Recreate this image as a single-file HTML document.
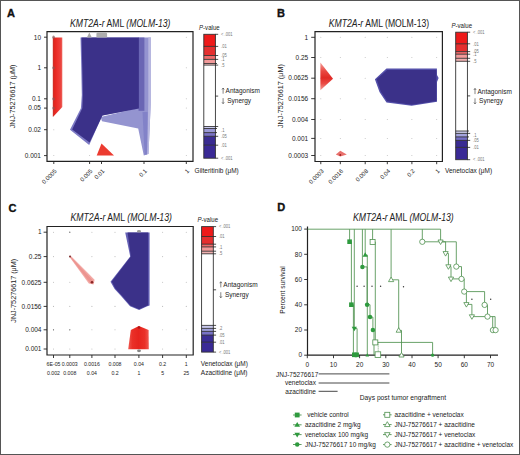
<!DOCTYPE html>
<html><head><meta charset="utf-8">
<style>
html,body{margin:0;padding:0;background:#fff;}
body{width:520px;height:455px;overflow:hidden;}
svg{display:block;font-family:"Liberation Sans",sans-serif;}
.ar{stroke:#333;stroke-width:0.6;fill:none;}
</style></head>
<body>
<svg width="520" height="455" viewBox="0 0 520 455">
<defs>
<linearGradient id="rgB" x1="0" y1="0" x2="0" y2="1">
<stop offset="0" stop-color="#f4a09a"/><stop offset="0.3" stop-color="#ea4a44"/><stop offset="0.55" stop-color="#e02a26"/><stop offset="0.75" stop-color="#ea4a44"/><stop offset="1" stop-color="#f4a09a"/>
</linearGradient>
<linearGradient id="rgA" gradientUnits="userSpaceOnUse" x1="52.8" y1="0" x2="62.3" y2="0">
<stop offset="0" stop-color="#c8302a"/><stop offset="0.2" stop-color="#e6261f"/><stop offset="0.55" stop-color="#ee3430"/><stop offset="0.85" stop-color="#ea4440"/><stop offset="1" stop-color="#ee6a60"/>
</linearGradient>
<linearGradient id="rgC" gradientUnits="userSpaceOnUse" x1="128.2" y1="0" x2="148.8" y2="0">
<stop offset="0" stop-color="#f05850"/><stop offset="0.2" stop-color="#ea3028"/><stop offset="0.5" stop-color="#e6241e"/><stop offset="0.8" stop-color="#ea3028"/><stop offset="1" stop-color="#f05850"/>
</linearGradient>
</defs>
<rect x="0" y="0" width="520" height="455" fill="#fff"/>
<g id="A">
<text x="7.10" y="16.50" font-size="11.00" fill="#111" font-weight="bold" stroke="#111" stroke-width="0.35">A</text>
<text x="70.00" y="26.80" font-size="10.15" textLength="100.50" lengthAdjust="spacingAndGlyphs" fill="#222"><tspan font-style="italic">KMT2A-r</tspan> AML <tspan font-style="italic">(MOLM-13)</tspan></text>
<polygon points="52.8,37.5 62.3,37.5 62.3,107 53.2,116.8 52.8,116.8" fill="url(#rgA)"/>
<polygon points="138.5,37.5 150.9,37.5 150.9,100 148.5,154 143.8,155.6 138.2,128.4 102,121.2 100.6,117 138.5,108" fill="#9494d0"/>
<polygon points="148.3,37.5 150.9,37.5 150.9,100 148.5,154 147.2,154 148.3,100" fill="#b8b8e0"/>
<polygon points="142.5,112 147.6,112 147,154.5 144.6,154.5" fill="#8282c8"/>
<polygon points="138.5,37.5 144.4,37.5 144.4,110.8 138.5,110.8" fill="#6a66b4"/>
<polygon points="80.5,37.5 138.9,37.5 138.9,108.5 102.4,115.6 100.2,120.3 89.2,145 70,129.7 80.9,108.2 81.8,95 81.3,70" fill="#7d7ac4"/>
<polygon points="80.5,37.5 138.9,37.5 138.9,108.5 102.4,115.6 100.2,120.3 89.6,142.6 72.2,129.5 82.3,108.2 82.8,95 82.3,70 81.5,37.5" fill="#3b3189"/>
<circle cx="186.3" cy="37.2" r="0.5" fill="#bbb"/><circle cx="186.3" cy="67.8" r="0.5" fill="#bbb"/><circle cx="186.3" cy="98.8" r="0.5" fill="#bbb"/><circle cx="186.3" cy="108.1" r="0.5" fill="#bbb"/><circle cx="186.3" cy="129.7" r="0.5" fill="#bbb"/><circle cx="186.3" cy="155.6" r="0.5" fill="#bbb"/><circle cx="53.8" cy="129.7" r="0.5" fill="#bbb"/><circle cx="53.8" cy="155.6" r="0.5" fill="#bbb"/><circle cx="89.6" cy="155.6" r="0.5" fill="#bbb"/><ellipse cx="53.6" cy="37.2" rx="1.3" ry="1.6" fill="#8a5a58" opacity="0.75"/><ellipse cx="53.6" cy="67.8" rx="1.3" ry="1.6" fill="#8a5a58" opacity="0.75"/><ellipse cx="53.6" cy="98.8" rx="1.3" ry="1.6" fill="#8a5a58" opacity="0.75"/><ellipse cx="53.6" cy="108.1" rx="1.3" ry="1.6" fill="#8a5a58" opacity="0.75"/>
<polygon points="101.5,143.5 96.7,155.4 114,155.4" fill="#ec3b30"/>
<polygon points="86.9,37.6 89.3,32.6 91.8,37.6" fill="#a8a8a8"/>
<rect x="96.4" y="32.7" width="10.7" height="4.9" rx="1.2" fill="#adadad"/>
<path d="M47,31.6 H193 V161.4 H47 Z" fill="none" stroke="#222" stroke-width="1.2"/>
<path d="M44,37.2H47 M44,67.8H47 M44,98.8H47 M44,108.1H47 M44,129.7H47 M44,155.6H47 M53.8,161.4V164 M89.6,161.4V164 M101.5,161.4V164 M144,161.4V164 M186.3,161.4V164 " stroke="#222" stroke-width="0.9"/>
<text x="41.00" y="39.50" font-size="7.15" textLength="7.23" lengthAdjust="spacingAndGlyphs" text-anchor="end" fill="#222">10</text>
<text x="41.00" y="70.10" font-size="7.15" textLength="3.62" lengthAdjust="spacingAndGlyphs" text-anchor="end" fill="#222">1</text>
<text x="41.00" y="101.10" font-size="7.15" textLength="9.04" lengthAdjust="spacingAndGlyphs" text-anchor="end" fill="#222">0.1</text>
<text x="41.00" y="110.40" font-size="7.15" textLength="12.65" lengthAdjust="spacingAndGlyphs" text-anchor="end" fill="#222">0.05</text>
<text x="41.00" y="132.00" font-size="7.15" textLength="12.65" lengthAdjust="spacingAndGlyphs" text-anchor="end" fill="#222">0.02</text>
<text x="41.00" y="157.90" font-size="7.15" textLength="16.27" lengthAdjust="spacingAndGlyphs" text-anchor="end" fill="#222">0.001</text>
<text transform="translate(57.10,171.50) rotate(-45)" font-size="5.90" text-anchor="end" fill="#222">0.0005</text>
<text transform="translate(92.90,171.50) rotate(-45)" font-size="5.90" text-anchor="end" fill="#222">0.005</text>
<text transform="translate(104.80,171.50) rotate(-45)" font-size="5.90" text-anchor="end" fill="#222">0.01</text>
<text transform="translate(147.30,171.50) rotate(-45)" font-size="5.90" text-anchor="end" fill="#222">0.1</text>
<text transform="translate(189.60,171.50) rotate(-45)" font-size="5.90" text-anchor="end" fill="#222">1</text>
<text transform="translate(15.40,96.40) rotate(-90)" font-size="7.92" textLength="63.77" lengthAdjust="spacingAndGlyphs" text-anchor="middle" fill="#222">JNJ-75276617 (μM)</text>
<text x="194.60" y="173.10" font-size="7.15" textLength="44.19" lengthAdjust="spacingAndGlyphs" fill="#222">Gilteritinib (μM)</text>
<g>
<text x="199.00" y="29.80" font-size="6.71" textLength="20.68" lengthAdjust="spacingAndGlyphs" fill="#222"><tspan font-style="italic">P</tspan>-value</text>
<rect x="203.8" y="34.3" width="11.6" height="12.10" fill="#ee1a1a"/><rect x="203.8" y="46.4" width="11.6" height="9.10" fill="#e52f2f"/><rect x="203.8" y="55.5" width="11.6" height="3.90" fill="#ef6a6a"/><rect x="203.8" y="59.4" width="11.6" height="4.10" fill="#f29a9a"/><rect x="203.8" y="63.5" width="11.6" height="1.60" fill="#f6c4c4"/><rect x="203.8" y="126.5" width="11.6" height="2.00" fill="#cacaee"/><rect x="203.8" y="128.5" width="11.6" height="4.10" fill="#9a98d6"/><rect x="203.8" y="132.6" width="11.6" height="3.70" fill="#7a72c4"/><rect x="203.8" y="136.3" width="11.6" height="8.90" fill="#3a2c92"/><rect x="203.8" y="145.2" width="11.6" height="13.00" fill="#3a2a96"/>
<rect x="203.8" y="34.3" width="11.6" height="123.90" fill="none" stroke="#333" stroke-width="0.9"/>
<path d="M203.8,46.4H218.20 M203.8,55.5H218.20 M203.8,59.4H218.20 M203.8,63.5H217.00 M203.8,65.1H218.20 M203.8,126.5H218.20 M203.8,128.5H217.00 M203.8,132.6H217.00 M203.8,136.3H218.20 M203.8,145.2H218.20 M215.4,34.3H218.20 M215.4,96.1H218.20 M215.4,158.2H218.20 " stroke="#222" stroke-width="0.8"/>
<text x="221.00" y="36.10" font-size="4.51" textLength="11.51" lengthAdjust="spacingAndGlyphs" fill="#777">&lt; .001</text><text x="221.00" y="48.30" font-size="4.51" textLength="5.70" lengthAdjust="spacingAndGlyphs" fill="#777">.01</text><text x="221.00" y="56.90" font-size="4.51" textLength="5.70" lengthAdjust="spacingAndGlyphs" fill="#777">.05</text><text x="221.00" y="60.60" font-size="4.51" textLength="3.42" lengthAdjust="spacingAndGlyphs" fill="#777">.1</text><text x="221.00" y="66.70" font-size="4.51" textLength="3.42" lengthAdjust="spacingAndGlyphs" fill="#777">.5</text><text x="221.00" y="131.50" font-size="4.51" textLength="3.42" lengthAdjust="spacingAndGlyphs" fill="#777">.1</text><text x="221.00" y="137.80" font-size="4.51" textLength="5.70" lengthAdjust="spacingAndGlyphs" fill="#777">.05</text><text x="221.00" y="146.70" font-size="4.51" textLength="5.70" lengthAdjust="spacingAndGlyphs" fill="#777">.01</text><text x="221.00" y="159.80" font-size="4.51" textLength="11.51" lengthAdjust="spacingAndGlyphs" fill="#777">&lt; .001</text>
<path class="ar" d="M223.1,88.2V93.7 M222.0,89.5L223.1,88.0L224.2,89.5"/><path class="ar" d="M223.1,98.10000000000001V103.5 M222.0,102.30000000000001L223.1,103.7L224.2,102.30000000000001"/>
<text x="225.60" y="93.40" font-size="7.15" textLength="34.33" lengthAdjust="spacingAndGlyphs" fill="#222">Antagonism</text>
<text x="227.20" y="102.90" font-size="7.15" textLength="23.85" lengthAdjust="spacingAndGlyphs" fill="#222">Synergy</text>
</g>

</g>
<g id="B">
<text x="277.10" y="16.50" font-size="11.00" fill="#111" font-weight="bold" stroke="#111" stroke-width="0.35">B</text>
<text x="328.70" y="26.50" font-size="10.15" textLength="100.50" lengthAdjust="spacingAndGlyphs" fill="#222"><tspan font-style="italic">KMT2A-r</tspan> AML (MOLM-13)</text>
<g fill="#bbb"><circle cx="320.8" cy="37.3" r="0.5"/><circle cx="320.8" cy="57.5" r="0.5"/><circle cx="320.8" cy="78.2" r="0.5"/><circle cx="320.8" cy="98.7" r="0.5"/><circle cx="320.8" cy="119.5" r="0.5"/><circle cx="320.8" cy="138.4" r="0.5"/><circle cx="320.8" cy="155.5" r="0.5"/><circle cx="340.3" cy="37.3" r="0.5"/><circle cx="340.3" cy="57.5" r="0.5"/><circle cx="340.3" cy="78.2" r="0.5"/><circle cx="340.3" cy="98.7" r="0.5"/><circle cx="340.3" cy="119.5" r="0.5"/><circle cx="340.3" cy="138.4" r="0.5"/><circle cx="340.3" cy="155.5" r="0.5"/><circle cx="365.2" cy="37.3" r="0.5"/><circle cx="365.2" cy="57.5" r="0.5"/><circle cx="365.2" cy="78.2" r="0.5"/><circle cx="365.2" cy="98.7" r="0.5"/><circle cx="365.2" cy="119.5" r="0.5"/><circle cx="365.2" cy="138.4" r="0.5"/><circle cx="365.2" cy="155.5" r="0.5"/><circle cx="387.3" cy="37.3" r="0.5"/><circle cx="387.3" cy="57.5" r="0.5"/><circle cx="387.3" cy="78.2" r="0.5"/><circle cx="387.3" cy="98.7" r="0.5"/><circle cx="387.3" cy="119.5" r="0.5"/><circle cx="387.3" cy="138.4" r="0.5"/><circle cx="387.3" cy="155.5" r="0.5"/><circle cx="411.9" cy="37.3" r="0.5"/><circle cx="411.9" cy="57.5" r="0.5"/><circle cx="411.9" cy="78.2" r="0.5"/><circle cx="411.9" cy="98.7" r="0.5"/><circle cx="411.9" cy="119.5" r="0.5"/><circle cx="411.9" cy="138.4" r="0.5"/><circle cx="411.9" cy="155.5" r="0.5"/><circle cx="436.7" cy="37.3" r="0.5"/><circle cx="436.7" cy="57.5" r="0.5"/><circle cx="436.7" cy="78.2" r="0.5"/><circle cx="436.7" cy="98.7" r="0.5"/><circle cx="436.7" cy="119.5" r="0.5"/><circle cx="436.7" cy="138.4" r="0.5"/><circle cx="436.7" cy="155.5" r="0.5"/></g>
<polygon points="320.4,62.6 333,78.8 320.4,90.3" fill="url(#rgB)"/>
<polygon points="335.8,154.4 340.3,150.8 346.8,154.6 340.3,156.6" fill="#e8706c"/>
<circle cx="340.3" cy="155" r="0.9" fill="#a02020"/>
<polygon points="374.9,79.2 386.5,68.6 436.9,68.6 437,75 438.6,78.1 437,82 437,101.8 411.6,105.8 386.5,102.4 379.5,92" fill="#5450aa"/>
<polygon points="376.6,79.2 387.2,70 436.4,70 436.4,101 411.6,104.8 387.2,101.3 380.8,91.5" fill="#3b3189"/>
<path d="M315,31.6 H442.4 V161.5 H315 Z" fill="none" stroke="#222" stroke-width="1.2"/>
<path d="M311.2,37.3H315 M311.2,57.5H315 M311.2,78.2H315 M311.2,98.7H315 M311.2,119.5H315 M311.2,138.4H315 M311.2,155.5H315 M320.8,161.5V164.2 M340.3,161.5V164.2 M365.2,161.5V164.2 M387.3,161.5V164.2 M411.9,161.5V164.2 M436.7,161.5V164.2 " stroke="#222" stroke-width="0.9"/>
<text x="308.20" y="39.50" font-size="7.15" textLength="3.62" lengthAdjust="spacingAndGlyphs" text-anchor="end" fill="#222">1</text>
<text x="308.20" y="59.70" font-size="7.15" textLength="12.65" lengthAdjust="spacingAndGlyphs" text-anchor="end" fill="#222">0.25</text>
<text x="308.20" y="80.40" font-size="7.15" textLength="19.88" lengthAdjust="spacingAndGlyphs" text-anchor="end" fill="#222">0.0625</text>
<text x="308.20" y="100.90" font-size="7.15" textLength="19.88" lengthAdjust="spacingAndGlyphs" text-anchor="end" fill="#222">0.0156</text>
<text x="308.20" y="121.70" font-size="7.15" textLength="16.27" lengthAdjust="spacingAndGlyphs" text-anchor="end" fill="#222">0.004</text>
<text x="308.20" y="140.60" font-size="7.15" textLength="16.27" lengthAdjust="spacingAndGlyphs" text-anchor="end" fill="#222">0.001</text>
<text x="308.20" y="157.70" font-size="7.15" textLength="19.88" lengthAdjust="spacingAndGlyphs" text-anchor="end" fill="#222">0.0003</text>
<text transform="translate(324.10,171.50) rotate(-45)" font-size="5.90" text-anchor="end" fill="#222">0.0003</text>
<text transform="translate(343.60,171.50) rotate(-45)" font-size="5.90" text-anchor="end" fill="#222">0.0016</text>
<text transform="translate(368.50,171.50) rotate(-45)" font-size="5.90" text-anchor="end" fill="#222">0.008</text>
<text transform="translate(390.60,171.50) rotate(-45)" font-size="5.90" text-anchor="end" fill="#222">0.04</text>
<text transform="translate(415.20,171.50) rotate(-45)" font-size="5.90" text-anchor="end" fill="#222">0.2</text>
<text transform="translate(440.00,171.50) rotate(-45)" font-size="5.90" text-anchor="end" fill="#222">1</text>
<text transform="translate(283.20,96.10) rotate(-90)" font-size="7.92" textLength="63.77" lengthAdjust="spacingAndGlyphs" text-anchor="middle" fill="#222">JNJ-75276617 (μM)</text>
<text x="445.00" y="173.10" font-size="7.15" textLength="47.10" lengthAdjust="spacingAndGlyphs" fill="#222">Venetoclax (μM)</text>
<g>
<text x="451.40" y="27.70" font-size="6.71" textLength="20.68" lengthAdjust="spacingAndGlyphs" fill="#222"><tspan font-style="italic">P</tspan>-value</text>
<rect x="455.7" y="32.2" width="11.7" height="11.60" fill="#ee1a1a"/><rect x="455.7" y="43.8" width="11.7" height="7.80" fill="#e52f2f"/><rect x="455.7" y="51.6" width="11.7" height="2.60" fill="#ef6a6a"/><rect x="455.7" y="54.2" width="11.7" height="4.10" fill="#f29a9a"/><rect x="455.7" y="58.3" width="11.7" height="3.00" fill="#f0b0b0"/><rect x="455.7" y="131" width="11.7" height="2.40" fill="#d0d0ee"/><rect x="455.7" y="133.4" width="11.7" height="3.50" fill="#a4a4dc"/><rect x="455.7" y="136.9" width="11.7" height="3.50" fill="#7670c6"/><rect x="455.7" y="140.4" width="11.7" height="7.00" fill="#3a2c92"/><rect x="455.7" y="147.4" width="11.7" height="12.30" fill="#3a2a96"/>
<rect x="455.7" y="32.2" width="11.7" height="127.50" fill="none" stroke="#333" stroke-width="0.9"/>
<path d="M455.7,43.8H470.20 M455.7,51.6H470.20 M455.7,54.2H470.20 M455.7,58.3H470.20 M455.7,61.3H470.20 M455.7,131H469.00 M455.7,133.4H470.20 M455.7,136.9H469.00 M455.7,140.4H470.20 M455.7,147.4H470.20 M467.4,32.2H470.20 M467.4,95.9H470.20 M467.4,159.7H470.20 " stroke="#222" stroke-width="0.8"/>
<text x="473.00" y="33.80" font-size="4.51" textLength="11.51" lengthAdjust="spacingAndGlyphs" fill="#777">&lt; .001</text><text x="473.00" y="45.50" font-size="4.51" textLength="5.70" lengthAdjust="spacingAndGlyphs" fill="#777">.01</text><text x="473.00" y="52.50" font-size="4.51" textLength="5.70" lengthAdjust="spacingAndGlyphs" fill="#777">.05</text><text x="473.00" y="55.90" font-size="4.51" textLength="3.42" lengthAdjust="spacingAndGlyphs" fill="#777">.1</text><text x="473.00" y="62.50" font-size="4.51" textLength="3.42" lengthAdjust="spacingAndGlyphs" fill="#777">.5</text><text x="473.00" y="136.50" font-size="4.51" textLength="3.42" lengthAdjust="spacingAndGlyphs" fill="#777">.1</text><text x="473.00" y="141.90" font-size="4.51" textLength="5.70" lengthAdjust="spacingAndGlyphs" fill="#777">.05</text><text x="473.00" y="148.90" font-size="4.51" textLength="5.70" lengthAdjust="spacingAndGlyphs" fill="#777">.01</text><text x="473.00" y="160.80" font-size="4.51" textLength="11.51" lengthAdjust="spacingAndGlyphs" fill="#777">&lt; .001</text>
<path class="ar" d="M475,88.6V94.1 M473.9,89.89999999999999L475,88.39999999999999L476.1,89.89999999999999"/><path class="ar" d="M475,98.3V103.69999999999999 M473.9,102.5L475,103.89999999999999L476.1,102.5"/>
<text x="477.50" y="93.80" font-size="7.15" textLength="34.33" lengthAdjust="spacingAndGlyphs" fill="#222">Antagonism</text>
<text x="479.10" y="103.10" font-size="7.15" textLength="23.85" lengthAdjust="spacingAndGlyphs" fill="#222">Synergy</text>
</g>

</g>
<g id="C">
<text x="8.60" y="211.90" font-size="11.00" fill="#111" font-weight="bold" stroke="#111" stroke-width="0.35">C</text>
<text x="70.40" y="221.30" font-size="10.15" textLength="101.60" lengthAdjust="spacingAndGlyphs" fill="#222"><tspan font-style="italic">KMT2A-r</tspan> AML <tspan font-style="italic">(MOLM-13)</tspan></text>
<g fill="#bbb"><circle cx="53.5" cy="232.2" r="0.55"/><circle cx="53.5" cy="256.6" r="0.55"/><circle cx="53.5" cy="282.3" r="0.55"/><circle cx="53.5" cy="306.4" r="0.55"/><circle cx="53.5" cy="329.8" r="0.55"/><circle cx="53.5" cy="349" r="0.55"/><circle cx="69.8" cy="232.2" r="0.55"/><circle cx="69.8" cy="256.6" r="0.55"/><circle cx="69.8" cy="282.3" r="0.55"/><circle cx="69.8" cy="306.4" r="0.55"/><circle cx="69.8" cy="329.8" r="0.55"/><circle cx="69.8" cy="349" r="0.55"/><circle cx="91.9" cy="232.2" r="0.55"/><circle cx="91.9" cy="256.6" r="0.55"/><circle cx="91.9" cy="282.3" r="0.55"/><circle cx="91.9" cy="306.4" r="0.55"/><circle cx="91.9" cy="329.8" r="0.55"/><circle cx="91.9" cy="349" r="0.55"/><circle cx="115" cy="232.2" r="0.55"/><circle cx="115" cy="256.6" r="0.55"/><circle cx="115" cy="282.3" r="0.55"/><circle cx="115" cy="306.4" r="0.55"/><circle cx="115" cy="329.8" r="0.55"/><circle cx="115" cy="349" r="0.55"/><circle cx="138.9" cy="232.2" r="0.55"/><circle cx="138.9" cy="256.6" r="0.55"/><circle cx="138.9" cy="282.3" r="0.55"/><circle cx="138.9" cy="306.4" r="0.55"/><circle cx="138.9" cy="329.8" r="0.55"/><circle cx="138.9" cy="349" r="0.55"/><circle cx="162.6" cy="232.2" r="0.55"/><circle cx="162.6" cy="256.6" r="0.55"/><circle cx="162.6" cy="282.3" r="0.55"/><circle cx="162.6" cy="306.4" r="0.55"/><circle cx="162.6" cy="329.8" r="0.55"/><circle cx="162.6" cy="349" r="0.55"/><circle cx="186.3" cy="232.2" r="0.55"/><circle cx="186.3" cy="256.6" r="0.55"/><circle cx="186.3" cy="282.3" r="0.55"/><circle cx="186.3" cy="306.4" r="0.55"/><circle cx="186.3" cy="329.8" r="0.55"/><circle cx="186.3" cy="349" r="0.55"/></g>
<polygon points="69.2,256.4 70.4,255.6 94.6,279.8 93.6,284.6 88.8,283.6" fill="#f3aaa6"/>
<polygon points="69.7,256.5 70.3,256.2 93,280.6 92.4,283.6 90,283" fill="#ec9490"/>
<circle cx="70" cy="256.6" r="1" fill="#7a3030"/>
<circle cx="92" cy="282.2" r="1.3" fill="#8a2525"/>
<circle cx="69.8" cy="232.2" r="0.6" fill="#666"/><circle cx="69.8" cy="329.8" r="0.6" fill="#666"/><circle cx="53.5" cy="329.8" r="0.6" fill="#666"/>
<polygon points="125.2,232.4 149.6,232.4 149.6,305.4 147.3,306.3 139.1,310.1 130,306.3 121.3,296.2 114.6,289 110.5,281.7 130.2,256.4" fill="#6662b6"/>
<polygon points="127.6,232.4 148.2,232.4 148.2,305.2 139.1,309.2 130.3,305.4 121.7,295.5 115.1,288.3 111.7,281.6 130.8,256.4" fill="#3b3189"/>
<ellipse cx="139" cy="231.2" rx="2" ry="1.2" fill="#999"/>
<polygon points="138.9,326 148.6,330 148.8,349.3 128.2,349.3 130.8,330" fill="url(#rgC)"/>
<circle cx="139" cy="327.5" r="1.3" fill="#b01818"/>
<ellipse cx="139" cy="350.8" rx="2" ry="1.4" fill="#888"/>
<path d="M47,226.5 H193.2 V355 H47 Z" fill="none" stroke="#222" stroke-width="1.2"/>
<path d="M43.6,232.2H47 M43.6,256.6H47 M43.6,282.3H47 M43.6,306.4H47 M43.6,329.8H47 M43.6,349H47 M53.5,355V358 M69.8,355V358 M91.9,355V358 M115,355V358 M138.9,355V358 M162.6,355V358 M186.3,355V358 " stroke="#222" stroke-width="0.9"/>
<text x="41.50" y="234.40" font-size="7.15" textLength="3.62" lengthAdjust="spacingAndGlyphs" text-anchor="end" fill="#222">1</text>
<text x="41.50" y="258.80" font-size="7.15" textLength="12.65" lengthAdjust="spacingAndGlyphs" text-anchor="end" fill="#222">0.25</text>
<text x="41.50" y="284.50" font-size="7.15" textLength="19.88" lengthAdjust="spacingAndGlyphs" text-anchor="end" fill="#222">0.0625</text>
<text x="41.50" y="308.60" font-size="7.15" textLength="19.88" lengthAdjust="spacingAndGlyphs" text-anchor="end" fill="#222">0.0156</text>
<text x="41.50" y="332.00" font-size="7.15" textLength="16.27" lengthAdjust="spacingAndGlyphs" text-anchor="end" fill="#222">0.004</text>
<text x="41.50" y="351.20" font-size="7.15" textLength="16.27" lengthAdjust="spacingAndGlyphs" text-anchor="end" fill="#222">0.001</text>
<text x="53.50" y="365.90" font-size="5.72" textLength="13.88" lengthAdjust="spacingAndGlyphs" text-anchor="middle" fill="#222">6E-05</text>
<text x="53.50" y="374.90" font-size="5.72" textLength="13.01" lengthAdjust="spacingAndGlyphs" text-anchor="middle" fill="#222">0.002</text>
<text x="69.80" y="365.90" font-size="5.72" textLength="15.90" lengthAdjust="spacingAndGlyphs" text-anchor="middle" fill="#222">0.0003</text>
<text x="69.80" y="374.90" font-size="5.72" textLength="13.01" lengthAdjust="spacingAndGlyphs" text-anchor="middle" fill="#222">0.008</text>
<text x="91.90" y="365.90" font-size="5.72" textLength="15.90" lengthAdjust="spacingAndGlyphs" text-anchor="middle" fill="#222">0.0016</text>
<text x="91.90" y="374.90" font-size="5.72" textLength="10.12" lengthAdjust="spacingAndGlyphs" text-anchor="middle" fill="#222">0.04</text>
<text x="115.00" y="365.90" font-size="5.72" textLength="13.01" lengthAdjust="spacingAndGlyphs" text-anchor="middle" fill="#222">0.008</text>
<text x="115.00" y="374.90" font-size="5.72" textLength="7.23" lengthAdjust="spacingAndGlyphs" text-anchor="middle" fill="#222">0.2</text>
<text x="138.90" y="365.90" font-size="5.72" textLength="10.12" lengthAdjust="spacingAndGlyphs" text-anchor="middle" fill="#222">0.04</text>
<text x="138.90" y="374.90" font-size="5.72" textLength="2.89" lengthAdjust="spacingAndGlyphs" text-anchor="middle" fill="#222">1</text>
<text x="162.60" y="365.90" font-size="5.72" textLength="7.23" lengthAdjust="spacingAndGlyphs" text-anchor="middle" fill="#222">0.2</text>
<text x="162.60" y="374.90" font-size="5.72" textLength="2.89" lengthAdjust="spacingAndGlyphs" text-anchor="middle" fill="#222">5</text>
<text x="186.30" y="365.90" font-size="5.72" textLength="2.89" lengthAdjust="spacingAndGlyphs" text-anchor="middle" fill="#222">1</text>
<text x="186.30" y="374.90" font-size="5.72" textLength="5.78" lengthAdjust="spacingAndGlyphs" text-anchor="middle" fill="#222">25</text>
<text transform="translate(16.10,290.80) rotate(-90)" font-size="7.92" textLength="63.77" lengthAdjust="spacingAndGlyphs" text-anchor="middle" fill="#222">JNJ-75276617 (μM)</text>
<text x="200.80" y="366.10" font-size="7.15" textLength="47.10" lengthAdjust="spacingAndGlyphs" fill="#222">Venetoclax (μM)</text>
<text x="200.80" y="374.80" font-size="7.15" textLength="46.73" lengthAdjust="spacingAndGlyphs" fill="#222">Azacitidine (μM)</text>
<g>
<text x="197.40" y="222.30" font-size="6.71" textLength="20.68" lengthAdjust="spacingAndGlyphs" fill="#222"><tspan font-style="italic">P</tspan>-value</text>
<rect x="201.6" y="226.6" width="11.7" height="9.90" fill="#ee1a1a"/><rect x="201.6" y="236.5" width="11.7" height="7.70" fill="#e52f2f"/><rect x="201.6" y="244.2" width="11.7" height="2.70" fill="#ef6a6a"/><rect x="201.6" y="246.9" width="11.7" height="4.30" fill="#f29a9a"/><rect x="201.6" y="251.2" width="11.7" height="2.60" fill="#f0b0b0"/><rect x="201.6" y="325.4" width="11.7" height="3.00" fill="#c8c8ec"/><rect x="201.6" y="328.4" width="11.7" height="3.00" fill="#a0a0dc"/><rect x="201.6" y="331.4" width="11.7" height="3.70" fill="#7872c6"/><rect x="201.6" y="335.1" width="11.7" height="7.10" fill="#3a2c94"/><rect x="201.6" y="342.2" width="11.7" height="9.90" fill="#3a2a96"/>
<rect x="201.6" y="226.6" width="11.7" height="125.50" fill="none" stroke="#333" stroke-width="0.9"/>
<path d="M201.6,236.5H216.10 M201.6,244.2H216.10 M201.6,246.9H216.10 M201.6,251.2H216.10 M201.6,253.8H216.10 M201.6,325.4H216.10 M201.6,328.4H216.10 M201.6,331.4H216.10 M201.6,335.1H216.10 M201.6,342.2H216.10 M213.29999999999998,226.6H216.10 M213.29999999999998,289.8H216.10 M213.29999999999998,352.1H216.10 " stroke="#222" stroke-width="0.8"/>
<text x="218.90" y="228.20" font-size="4.51" textLength="11.51" lengthAdjust="spacingAndGlyphs" fill="#777">&lt; .001</text><text x="218.90" y="238.40" font-size="4.51" textLength="5.70" lengthAdjust="spacingAndGlyphs" fill="#777">.01</text><text x="218.90" y="248.90" font-size="4.51" textLength="3.42" lengthAdjust="spacingAndGlyphs" fill="#777">.1</text><text x="218.90" y="255.40" font-size="4.51" textLength="3.42" lengthAdjust="spacingAndGlyphs" fill="#777">.5</text><text x="218.90" y="329.50" font-size="4.51" textLength="3.42" lengthAdjust="spacingAndGlyphs" fill="#777">.2</text><text x="218.90" y="336.80" font-size="4.51" textLength="5.70" lengthAdjust="spacingAndGlyphs" fill="#777">.05</text><text x="218.90" y="343.70" font-size="4.51" textLength="5.70" lengthAdjust="spacingAndGlyphs" fill="#777">.01</text><text x="218.90" y="353.70" font-size="4.51" textLength="11.51" lengthAdjust="spacingAndGlyphs" fill="#777">&lt; .001</text>
<path class="ar" d="M220.8,281.90000000000003V287.40000000000003 M219.70000000000002,283.20000000000005L220.8,281.70000000000005L221.9,283.20000000000005"/><path class="ar" d="M220.8,292.2V297.6 M219.70000000000002,296.4L220.8,297.8L221.9,296.4"/>
<text x="223.30" y="287.10" font-size="7.15" textLength="34.33" lengthAdjust="spacingAndGlyphs" fill="#222">Antagonism</text>
<text x="224.90" y="297.00" font-size="7.15" textLength="23.85" lengthAdjust="spacingAndGlyphs" fill="#222">Synergy</text>
</g>

</g>
<g id="D">
<text x="277.20" y="211.30" font-size="11.00" fill="#111" font-weight="bold" stroke="#111" stroke-width="0.35">D</text>
<text x="353.00" y="220.90" font-size="10.15" textLength="100.75" lengthAdjust="spacingAndGlyphs" fill="#222"><tspan font-style="italic">KMT2A-r</tspan> AML <tspan font-style="italic">(MOLM-13)</tspan></text>
<path d="M307.5,226.5 V355.2 H498" fill="none" stroke="#222" stroke-width="1.2"/>
<g fill="none" stroke="#4f914f" stroke-width="0.85"><path d="M307.5,229.2 H440.6"/><path d="M349.6,229.2 V241.7 H351.4 V304.7 H353.4 V355.2"/><path d="M354.3,229.2 V328.6 H357.1 V355.2"/><path d="M365.2,229.2 V255 H367.3 V355.2"/><path d="M362.4,229.2 V266.9 H367.1 V304.7 H370 V317.1 H372.9 V330 H374 V355.2"/><path d="M372.6,229.2 V241.9 H375.3 V342.4 H432.6 V355.2"/><path d="M391.1,229.2 V279.8 H398.7 V330.4 H401.5 V355.2"/><path d="M422.3,229.2 V241.8 H456.3 V266.6 H461.5 V278.9 H464.2 V291.6 H484.6 V304.9 H487.5 V316.6 H495.1 V330.1"/><path d="M492.7,316.6 V330.1"/><path d="M440.6,229.2 V241.8 H445.6 V253.4 H448.4 V266.6 H451 V278.9 H461.5"/><path d="M464.2,291.6 H466.4 V304.4 H471.9 V316.6 H487.5"/></g>
<path d="M378.2,342.4 V355" fill="none" stroke="#4f914f" stroke-width="0.8" stroke-dasharray="1,1"/>
<rect x="347.30" y="239.40" width="4.6" height="4.6" fill="#2e9a3e"/><rect x="349.10" y="302.40" width="4.6" height="4.6" fill="#2e9a3e"/><rect x="352.00" y="352.50" width="4.6" height="4.6" fill="#2e9a3e"/><rect x="354.30" y="352.50" width="4.6" height="4.6" fill="#2e9a3e"/><polygon points="354.3,331.31 351.70,326.79 356.90,326.79" fill="#2e9a3e"/><polygon points="356,357.71 353.40,353.19 358.60,353.19" fill="#2e9a3e"/><polygon points="365.2,252.29 362.60,256.81 367.80,256.81" fill="#2e9a3e"/><polygon points="367.3,353.32 365.50,356.45 369.10,356.45" fill="#2e9a3e"/><circle cx="362.4" cy="266.9" r="2.25" fill="#2e9a3e"/><circle cx="367.1" cy="304.7" r="2.25" fill="#2e9a3e"/><circle cx="370" cy="317.1" r="2.25" fill="#2e9a3e"/><circle cx="372.9" cy="330" r="2.25" fill="#2e9a3e"/><rect x="370.10" y="239.40" width="5" height="5" fill="#fff" stroke="#4f914f" stroke-width="0.8"/><rect x="372.80" y="339.90" width="5" height="5" fill="#fff" stroke="#4f914f" stroke-width="0.8"/><rect x="375.10" y="351.80" width="5.6" height="5.6" fill="#fff" stroke="#4f914f" stroke-width="0.8"/><circle cx="432.6" cy="355.2" r="1.60" fill="#2e9a3e"/><polygon points="391.1,277.09 388.50,281.61 393.70,281.61" fill="#fff" stroke="#4f914f" stroke-width="0.8"/><polygon points="398.7,327.69 396.10,332.21 401.30,332.21" fill="#fff" stroke="#4f914f" stroke-width="0.8"/><polygon points="401.5,352.49 398.90,357.01 404.10,357.01" fill="#fff" stroke="#4f914f" stroke-width="0.8"/><circle cx="422.3" cy="241.8" r="2.65" fill="#fff" stroke="#4f914f" stroke-width="0.8"/><circle cx="456.3" cy="266.6" r="2.65" fill="#fff" stroke="#4f914f" stroke-width="0.8"/><circle cx="461.5" cy="278.9" r="2.65" fill="#fff" stroke="#4f914f" stroke-width="0.8"/><circle cx="464.2" cy="291.6" r="2.65" fill="#fff" stroke="#4f914f" stroke-width="0.8"/><circle cx="484.6" cy="304.9" r="2.65" fill="#fff" stroke="#4f914f" stroke-width="0.8"/><circle cx="487.5" cy="316.6" r="2.65" fill="#fff" stroke="#4f914f" stroke-width="0.8"/><circle cx="492.9" cy="330.1" r="2.65" fill="#fff" stroke="#4f914f" stroke-width="0.8"/><circle cx="495.6" cy="330.1" r="2.65" fill="#fff" stroke="#4f914f" stroke-width="0.8"/><polygon points="440.6,244.51 438.00,239.99 443.20,239.99" fill="#fff" stroke="#4f914f" stroke-width="0.8"/><polygon points="445.6,256.11 443.00,251.59 448.20,251.59" fill="#fff" stroke="#4f914f" stroke-width="0.8"/><polygon points="448.4,269.31 445.80,264.79 451.00,264.79" fill="#fff" stroke="#4f914f" stroke-width="0.8"/><polygon points="451,281.61 448.40,277.09 453.60,277.09" fill="#fff" stroke="#4f914f" stroke-width="0.8"/><polygon points="466.4,307.11 463.80,302.59 469.00,302.59" fill="#fff" stroke="#4f914f" stroke-width="0.8"/><polygon points="471.9,319.31 469.30,314.79 474.50,314.79" fill="#fff" stroke="#4f914f" stroke-width="0.8"/>
<circle cx="357.1" cy="286.3" r="0.7" fill="#333"/><circle cx="364.1" cy="286.3" r="0.7" fill="#333"/><circle cx="372" cy="286.3" r="0.7" fill="#333"/><circle cx="380.6" cy="286.3" r="0.7" fill="#333"/><circle cx="403.5" cy="286.8" r="0.7" fill="#333"/><circle cx="471.9" cy="299.2" r="0.7" fill="#333"/><circle cx="490.7" cy="299.2" r="0.7" fill="#333"/>
<path d="M304.2,355.2H307.5 M304.2,330.0H307.5 M304.2,304.8H307.5 M304.2,279.5H307.5 M304.2,254.3H307.5 M304.2,229.1H307.5 M307.3,355.2V358.2 M333.5,355.2V358.2 M359.6,355.2V358.2 M385.8,355.2V358.2 M412.0,355.2V358.2 M438.1,355.2V358.2 M464.3,355.2V358.2 M490.5,355.2V358.2 " stroke="#222" stroke-width="0.9"/>
<text x="302.00" y="357.40" font-size="7.15" textLength="3.62" lengthAdjust="spacingAndGlyphs" text-anchor="end" fill="#222">0</text>
<text x="302.00" y="332.18" font-size="7.15" textLength="7.23" lengthAdjust="spacingAndGlyphs" text-anchor="end" fill="#222">20</text>
<text x="302.00" y="306.96" font-size="7.15" textLength="7.23" lengthAdjust="spacingAndGlyphs" text-anchor="end" fill="#222">40</text>
<text x="302.00" y="281.74" font-size="7.15" textLength="7.23" lengthAdjust="spacingAndGlyphs" text-anchor="end" fill="#222">60</text>
<text x="302.00" y="256.52" font-size="7.15" textLength="7.23" lengthAdjust="spacingAndGlyphs" text-anchor="end" fill="#222">80</text>
<text x="302.00" y="231.30" font-size="7.15" textLength="10.85" lengthAdjust="spacingAndGlyphs" text-anchor="end" fill="#222">100</text>
<text x="307.30" y="366.60" font-size="7.15" textLength="3.62" lengthAdjust="spacingAndGlyphs" text-anchor="middle" fill="#222">0</text>
<text x="333.47" y="366.60" font-size="7.15" textLength="7.23" lengthAdjust="spacingAndGlyphs" text-anchor="middle" fill="#222">10</text>
<text x="359.64" y="366.60" font-size="7.15" textLength="7.23" lengthAdjust="spacingAndGlyphs" text-anchor="middle" fill="#222">20</text>
<text x="385.81" y="366.60" font-size="7.15" textLength="7.23" lengthAdjust="spacingAndGlyphs" text-anchor="middle" fill="#222">30</text>
<text x="411.98" y="366.60" font-size="7.15" textLength="7.23" lengthAdjust="spacingAndGlyphs" text-anchor="middle" fill="#222">40</text>
<text x="438.15" y="366.60" font-size="7.15" textLength="7.23" lengthAdjust="spacingAndGlyphs" text-anchor="middle" fill="#222">50</text>
<text x="464.32" y="366.60" font-size="7.15" textLength="7.23" lengthAdjust="spacingAndGlyphs" text-anchor="middle" fill="#222">60</text>
<text x="490.49" y="366.60" font-size="7.15" textLength="7.23" lengthAdjust="spacingAndGlyphs" text-anchor="middle" fill="#222">70</text>
<text transform="translate(285.00,290.00) rotate(-90)" font-size="7.15" textLength="47.40" lengthAdjust="spacingAndGlyphs" text-anchor="middle" fill="#222">Percent survival</text>
<text x="318.30" y="376.50" font-size="7.15" textLength="42.28" lengthAdjust="spacingAndGlyphs" text-anchor="end" fill="#222">JNJ-75276617</text>
<text x="316.00" y="385.30" font-size="7.15" textLength="31.08" lengthAdjust="spacingAndGlyphs" text-anchor="end" fill="#222">venetoclax</text>
<text x="316.00" y="393.70" font-size="7.15" textLength="30.71" lengthAdjust="spacingAndGlyphs" text-anchor="end" fill="#222">azacitidine</text>
<path d="M318.6,373.9H389.4 M318.6,383H389.4 M318.6,391.3H337.6" stroke="#333" stroke-width="0.9"/>
<text x="359.80" y="399.90" font-size="7.60" textLength="86.20" lengthAdjust="spacingAndGlyphs" fill="#222">Days post tumor engraftment</text>
<path d="M293,415H301.6" stroke="#4f914f" stroke-width="0.9"/><path d="M293,424.8H301.6" stroke="#4f914f" stroke-width="0.9"/><path d="M293,434.6H301.6" stroke="#4f914f" stroke-width="0.9"/><path d="M293,444.5H301.6" stroke="#4f914f" stroke-width="0.9"/><path d="M383,414.8H391.6" stroke="#4f914f" stroke-width="0.9"/><path d="M383,424.6H391.6" stroke="#4f914f" stroke-width="0.9"/><path d="M383,434.6H391.6" stroke="#4f914f" stroke-width="0.9"/><path d="M383,444.6H391.6" stroke="#4f914f" stroke-width="0.9"/><rect x="294.80" y="412.60" width="4.8" height="4.8" fill="#2e9a3e"/><polygon points="297.2,421.88 294.40,426.75 300.00,426.75" fill="#2e9a3e"/><polygon points="297.2,437.52 294.40,432.65 300.00,432.65" fill="#2e9a3e"/><circle cx="297.2" cy="444.5" r="2.25" fill="#2e9a3e"/><rect x="384.80" y="412.30" width="5" height="5" fill="#fff" stroke="#4f914f" stroke-width="0.8"/><polygon points="387.3,421.68 384.50,426.55 390.10,426.55" fill="#fff" stroke="#4f914f" stroke-width="0.8"/><polygon points="387.3,437.52 384.50,432.65 390.10,432.65" fill="#fff" stroke="#4f914f" stroke-width="0.8"/><circle cx="387.3" cy="444.6" r="2.65" fill="#fff" stroke="#4f914f" stroke-width="0.8"/>
<text x="307.20" y="417.30" font-size="7.15" textLength="41.55" lengthAdjust="spacingAndGlyphs" fill="#222">vehicle control</text>
<text x="305.00" y="427.10" font-size="7.15" textLength="55.64" lengthAdjust="spacingAndGlyphs" fill="#222">azacitidine 2 mg/kg</text>
<text x="305.00" y="436.90" font-size="7.15" textLength="63.23" lengthAdjust="spacingAndGlyphs" fill="#222">venetoclax 100 mg/kg</text>
<text x="305.00" y="446.80" font-size="7.15" textLength="70.82" lengthAdjust="spacingAndGlyphs" fill="#222">JNJ-75276617 10 mg/kg</text>
<text x="394.50" y="417.10" font-size="7.15" textLength="69.20" lengthAdjust="spacingAndGlyphs" fill="#222">azacitidine + venetoclax</text>
<text x="394.50" y="426.90" font-size="7.15" textLength="80.40" lengthAdjust="spacingAndGlyphs" fill="#222">JNJ-75276617 + azacitidine</text>
<text x="394.50" y="436.90" font-size="7.15" textLength="80.76" lengthAdjust="spacingAndGlyphs" fill="#222">JNJ-75276617 + venetoclax</text>
<text x="394.50" y="446.90" font-size="7.15" textLength="118.88" lengthAdjust="spacingAndGlyphs" fill="#222">JNJ-75276617 + azacitidine + venetoclax</text>
</g>
<rect x="0.5" y="0.5" width="519" height="454" fill="none" stroke="#555" stroke-width="1"/>
</svg>
</body></html>
